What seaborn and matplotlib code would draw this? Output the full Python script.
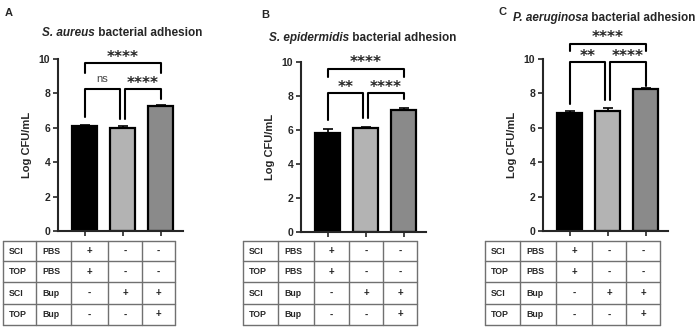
import matplotlib
matplotlib.use("Agg")
import matplotlib.pyplot as plt
import seaborn as sns
import pandas as pd
import numpy as np

sns.set_style("ticks")
plt.rcParams['font.family'] = ['Liberation Sans', 'DejaVu Sans']

groups = ["G1", "G2", "G3"]
colors = ["#000000", "#b3b3b3", "#8a8a8a"]
panel_letters = ["A", "B", "C"]
titles_species = ["S. aureus", "S. epidermidis", "P. aeruginosa"]
title_rest = " bacterial adhesion"
means_A = [6.1, 6.0, 7.25]
err_A = [0.05, 0.12, 0.07]
means_B = [5.8, 6.1, 7.2]
err_B = [0.28, 0.08, 0.1]
means_C = [6.85, 7.0, 8.25]
err_C = [0.1, 0.15, 0.05]
yticks = [0, 2, 4, 6, 8, 10]
sig_labels_A = ["****", "ns", "****"]
sig_labels_B = ["****", "**", "****"]
sig_labels_C = ["****", "**", "****"]
# bracket heights: [top, top drop, low, left-end, mid-left, mid-right, right-end]
brackets_A = [9.75, 9.2, 8.25, 6.6, 6.5, 6.5, 7.7]
brackets_B = [9.6, 9.1, 8.15, 6.6, 6.7, 6.7, 7.8]
brackets_C = [10.9, 10.45, 9.8, 7.4, 7.6, 7.6, 8.45]

table_rows = [["SCI", "PBS"], ["TOP", "PBS"], ["SCI", "Bup"], ["TOP", "Bup"]]
table_signs = [["+", "-", "-"], ["+", "-", "-"], ["-", "+", "+"], ["-", "-", "+"]]

W, H = 700, 327
fig = plt.figure(figsize=(7, 3.27), dpi=100)
renderer = fig.canvas.get_renderer()

def fx(px):
    return px / W

def fy(py):
    return 1 - py / H

panels = [
    dict(means=means_A, err=err_A, sig=sig_labels_A, br=brackets_A,
         left=58, top=59, bottom=231, title_xy=(122, 33), letter_xy=(9, 13),
         table_x=[3, 36, 71, 108, 142, 175]),
    dict(means=means_B, err=err_B, sig=sig_labels_B, br=brackets_B,
         left=301, top=62, bottom=232, title_xy=(363, 38), letter_xy=(265, 15),
         table_x=[243, 278, 314, 349, 383, 417]),
    dict(means=means_C, err=err_C, sig=sig_labels_C, br=brackets_C,
         left=543, top=59, bottom=231, title_xy=(604, 18), letter_xy=(502, 12),
         table_x=[485, 520, 556, 592, 626, 660]),
]
table_y = [241, 261, 282, 304, 325]

tax = fig.add_axes([0, 0, 1, 1], facecolor="none")
tax.set_xlim(0, W)
tax.set_ylim(H, 0)
tax.axis("off")

for i, p in enumerate(panels):
    width_px = 3.3 * 38
    ax = fig.add_axes([fx(p["left"]), fy(p["bottom"]), fx(width_px),
                       (p["bottom"] - p["top"]) / H])
    df = pd.DataFrame({"group": groups, "value": p["means"]})
    sns.barplot(data=df, x="group", y="value", hue="group", palette=colors,
                legend=False, width=0.66, edgecolor="black", linewidth=1.6,
                ax=ax, errorbar=None)
    xs = np.arange(len(groups))
    ax.errorbar(xs, p["means"], yerr=[np.zeros(3), p["err"]], fmt="none",
                ecolor="black", elinewidth=1.2, capsize=3.5, capthick=1.2, zorder=1)
    ax.set_xlim(-0.7, 2.6)
    ax.set_ylim(0, 10)
    ax.set_yticks(yticks)
    ax.set_yticklabels([str(t) for t in yticks], fontsize=7.5, fontweight="bold")
    ax.set_xticks(xs)
    ax.set_xticklabels([])
    ax.set_xlabel("")
    ax.set_ylabel("Log CFU/mL", fontsize=8, fontweight="bold", labelpad=5)
    for s in ["top", "right"]:
        ax.spines[s].set_visible(False)
    for s in ["left", "bottom"]:
        ax.spines[s].set_linewidth(1.5)
    ax.tick_params(axis="both", width=1.2, length=3.5, pad=2)

    br = p["br"]
    lw = 1.5
    ax.plot([0, 0, 2, 2], [br[1], br[0], br[0], br[1]], color="black", lw=lw, clip_on=False)
    ax.plot([0, 0, 0.93, 0.93], [br[3], br[2], br[2], br[4]], color="black", lw=lw, clip_on=False)
    ax.plot([1.07, 1.07, 2, 2], [br[5], br[2], br[2], br[6]], color="black", lw=lw, clip_on=False)
    sig = p["sig"]
    ax.text(1, br[0] - 0.1, sig[0], ha="center", va="bottom", fontsize=11,
            fontweight="bold", family="DejaVu Sans", clip_on=False)
    for (xc, lab) in [(0.47, sig[1]), (1.53, sig[2])]:
        if lab == "ns":
            ax.text(xc, br[2] + 0.3, lab, ha="center", va="bottom", fontsize=8,
                    color="#444444", clip_on=False)
        else:
            ax.text(xc, br[2] - 0.1, lab, ha="center", va="bottom", fontsize=11,
                    fontweight="bold", family="DejaVu Sans", clip_on=False)

    # title: italic species + regular rest, centred together
    tx, ty = p["title_xy"]
    t1 = fig.text(0, fy(ty), titles_species[i], ha="left", va="center",
                  fontsize=8.5, fontweight="bold", style="italic")
    t2 = fig.text(0, fy(ty), title_rest, ha="left", va="center",
                  fontsize=8.5, fontweight="bold")
    w1 = t1.get_window_extent(renderer).width
    w2 = t2.get_window_extent(renderer).width
    x0 = tx - (w1 + w2) / 2
    t1.set_x(fx(x0))
    t2.set_x(fx(x0 + w1))
    lx, ly = p["letter_xy"]
    fig.text(fx(lx), fy(ly), panel_letters[i], ha="center", va="center",
             fontsize=8, fontweight="bold")

    # table
    cx = p["table_x"]
    for yv in table_y:
        tax.plot([cx[0], cx[-1]], [yv, yv], color="#707070", lw=1.0)
    for xv in cx:
        tax.plot([xv, xv], [table_y[0], table_y[-1]], color="#707070", lw=1.0)
    for r in range(4):
        ym = (table_y[r] + table_y[r + 1]) / 2
        tax.text(cx[0] + 6, ym, table_rows[r][0], ha="left", va="center",
                 fontsize=6.3, fontweight="bold")
        tax.text(cx[1] + 6, ym, table_rows[r][1], ha="left", va="center",
                 fontsize=6.3, fontweight="bold")
        for c in range(3):
            xm = (cx[2 + c] + cx[3 + c]) / 2
            tax.text(xm, ym, table_signs[r][c], ha="center", va="center",
                     fontsize=7, fontweight="bold")

fig.savefig("out.png", dpi=100)
